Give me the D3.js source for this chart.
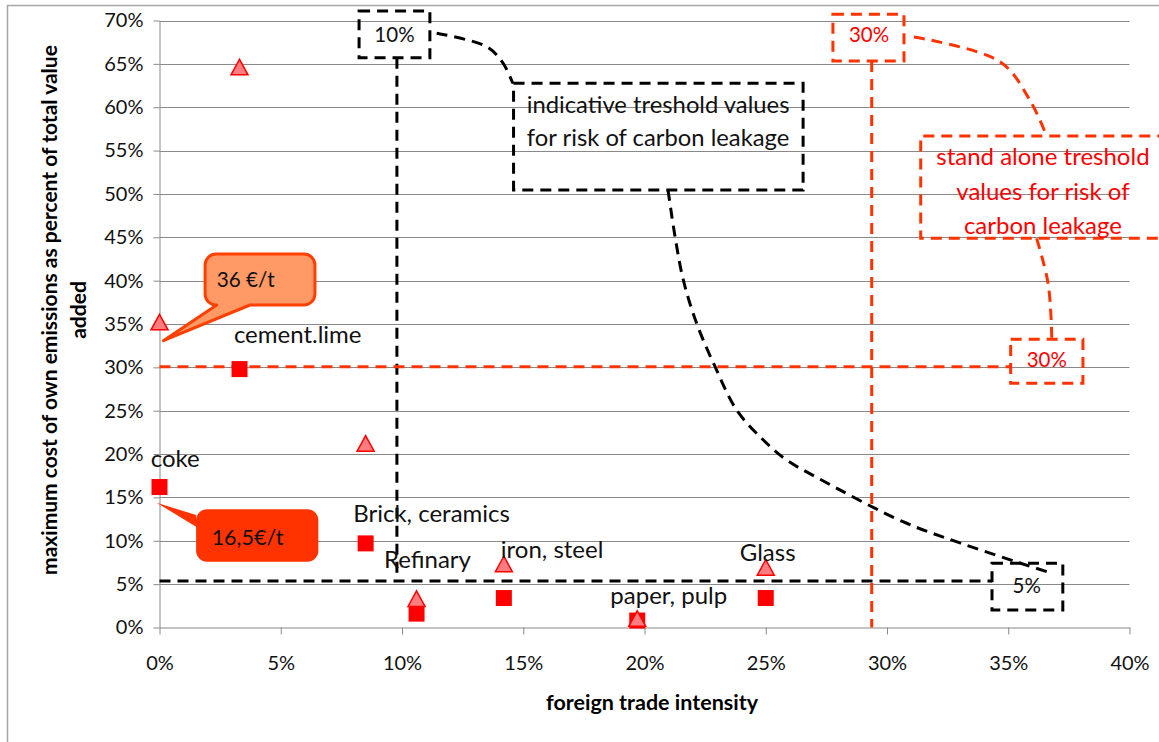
<!DOCTYPE html>
<html><head><meta charset="utf-8">
<script src="https://cdn.jsdelivr.net/npm/d3@7"></script>
<style>body{margin:0;background:#fff}svg{display:block}text{font-family:Lato,"Open Sans",sans-serif}</style>
</head><body>
<svg id="c" width="1159" height="742"></svg>
<script>
// ---------- data ----------
const categories = ["coke", "cement.lime", "Brick, ceramics", "Refinary", "iron, steel", "paper, pulp", "Glass"];
const tradeIntensity = [0.0, 3.3, 8.5, 10.6, 14.2, 19.7, 25.0];          // % (x)
const costLow  = [16.2, 29.8, 9.7, 1.6, 3.4, 0.8, 3.4];                  // % squares (16,5 €/t)
const costHigh = [35.2, 64.6, 21.2, 3.3, 7.3, 1.0, 6.9];                 // % triangles (36 €/t)
const labelX = [0.65, 5.70, 11.22, 11.05, 16.19, 21.0, 25.08];           // label centres (data units)
const labelY = [19.5, 33.73, 13.17, 7.87, 8.94, 3.63, 8.67];
const xTicks = [0, 5, 10, 15, 20, 25, 30, 35, 40];
const yTicks = [0, 5, 10, 15, 20, 25, 30, 35, 40, 45, 50, 55, 60, 65, 70];
const xTitle = "foreign trade intensity";
const yTitleLines = ["maximum cost of own emissions as percent of total value", "added"];

// threshold annotations (data units)
const blackThresholdV = {x: 9.79, y0: 65.7, y1: 6.05};      // 10 % trade intensity
const blackThresholdH = {y: 5.36, x0: 0, x1: 34.33};        // 5 % cost
const redThresholdV = {x: 29.37, y0: 65.33, y1: 0};         // 30 % trade intensity
const redThresholdH = {y: 30.08, x0: 0, x1: 35.10};         // 30 % cost
const blackBoxes = [
  {text: ["10%"], x0: 8.23, x1: 11.15, y0: 71.1, y1: 65.7, tx: 9.69, ty: [68.4], fs: 20.5},
  {text: ["indicative treshold values", "for risk of carbon leakage"], x0: 14.6, x1: 26.54, y0: 62.76, y1: 50.46, tx: 20.56, ty: [60.26, 56.45], fs: 23.8},
  {text: ["5%"], x0: 34.33, x1: 37.25, y0: 7.40, y1: 2.02, tx: 35.76, ty: [4.79], fs: 20.5}
];
const redBoxes = [
  {text: ["30%"], x0: 27.77, x1: 30.70, y0: 70.72, y1: 65.33, tx: 29.26, ty: [68.33], fs: 20.5},
  {text: ["stand alone treshold", "values for risk of", "carbon leakage"], x0: 31.39, x1: 41.6, y0: 56.68, y1: 44.88, tx: 36.43, ty: [54.30, 50.26, 46.30], open: true, fs: 24},
  {text: ["30%"], x0: 35.10, x1: 38.08, y0: 33.24, y1: 28.16, tx: 36.59, ty: [30.85], fs: 20.5}
];
const blackCurves = [
  [[11.43, 68.53], [13.49, 66.98], [14.16, 65.1], [14.57, 62.76]],
  [[20.97, 50.46], [21.26, 45.07], [21.60, 40.08], [22.15, 35.08], [22.91, 30.08], [23.80, 25.08], [24.90, 21.62], [25.86, 19.32], [27.17, 17.21], [30.66, 12.20], [33.01, 9.75], [35.48, 7.44], [36.59, 6.44]]
];
const redCurves = [
  [[31.11, 68.1], [34.66, 65.25], [35.89, 60.83], [36.51, 57.18]],
  [[36.17, 44.88], [36.64, 39.73], [36.79, 33.96], [36.79, 33.24]]
];
const callouts = [
  {text: "36 €/t", x0: 1.88, x1: 6.41, y0: 43.07, y1: 37.19, tip: [0.16, 33.07], base: [2.36, 3.73], side: "bottom", tx: 2.36, ty: 40.16, fill: "#FF9966", stroke: "#FF4000", fs: 20.7},
  {text: "16,5€/t", x0: 1.51, x1: 6.55, y0: 13.63, y1: 7.59, tip: [-0.12, 14.39], base: [12.97, 11.62], side: "left", tx: 2.15, ty: 10.4, fill: "#FF3300", stroke: "none", fs: 21.5}
];

// ---------- chart ----------
const svg = d3.select("#c");
const W = 1159, H = 742;
const x = d3.scaleLinear().domain([0, 40]).range([159.5, 1129.5]);
const y = d3.scaleLinear().domain([0, 70]).range([627.5, 20.5]);
const BLACK = "#000", ORANGE = "#FF3300", RED = "#FF0000";

// outer frame
svg.append("path").attr("d", `M7.5,${H + 5} V5.5 H${W + 5}`).attr("fill", "none").attr("stroke", "#a6a6a6").attr("stroke-width", 1.5);

// gridlines
svg.append("g").selectAll("line").data(yTicks.filter(d => d > 0)).join("line")
  .attr("x1", x(0)).attr("x2", x(40)).attr("y1", d => Math.round(y(d)) + 0.5).attr("y2", d => Math.round(y(d)) + 0.5)
  .attr("stroke", "#898989").attr("stroke-width", 1);

// axes
const yAxis = svg.append("g").attr("transform", `translate(${x(0)},0)`)
  .call(d3.axisLeft(y).tickValues(yTicks).tickFormat(d => d + "%").tickSize(6).tickSizeOuter(0).tickPadding(10));
const xAxis = svg.append("g").attr("transform", `translate(0,${y(0)})`)
  .call(d3.axisBottom(x).tickValues(xTicks).tickFormat(d => d + "%").tickSize(7).tickSizeOuter(0).tickPadding(21));
[yAxis, xAxis].forEach(g => {
  g.select(".domain").attr("stroke", "#898989");
  g.selectAll(".tick line").attr("stroke", "#898989");
  g.selectAll(".tick text").attr("fill", "#111").style("font-size", "20px").style("font-family", "Lato");
});

// axis titles
svg.append("text").attr("x", 652).attr("y", 710).attr("text-anchor", "middle")
  .style("font-size", "21.5px").style("font-weight", "bold").text(xTitle);
const yt = svg.append("text").attr("transform", "translate(0,310) rotate(-90)").attr("text-anchor", "middle")
  .style("font-size", "21px").style("font-weight", "bold");
yTitleLines.forEach((t, i) => yt.append("tspan").attr("x", 0).attr("y", 57 + i * 29).text(t));

// threshold lines
function dashed(g, col) { return g.attr("fill", "none").attr("stroke", col).attr("stroke-width", 3).attr("stroke-dasharray", "11,7"); }
dashed(svg.append("line").attr("x1", x(blackThresholdV.x)).attr("x2", x(blackThresholdV.x)).attr("y1", y(blackThresholdV.y0)).attr("y2", y(blackThresholdV.y1)), BLACK);
dashed(svg.append("line").attr("x1", x(blackThresholdH.x0)).attr("x2", x(blackThresholdH.x1)).attr("y1", y(blackThresholdH.y)).attr("y2", y(blackThresholdH.y)), BLACK);
dashed(svg.append("line").attr("x1", x(redThresholdV.x)).attr("x2", x(redThresholdV.x)).attr("y1", y(redThresholdV.y0)).attr("y2", y(redThresholdV.y1)), ORANGE);
dashed(svg.append("line").attr("x1", x(redThresholdH.x0)).attr("x2", x(redThresholdH.x1)).attr("y1", y(redThresholdH.y)).attr("y2", y(redThresholdH.y)), ORANGE);

// curves
const curve = d3.line().x(d => x(d[0])).y(d => y(d[1])).curve(d3.curveCatmullRom);
blackCurves.forEach(c => dashed(svg.append("path").attr("d", curve(c)), BLACK));
redCurves.forEach(c => dashed(svg.append("path").attr("d", curve(c)), ORANGE));

// boxes
function boxes(list, col, tcol) {
  list.forEach(b => {
    const X0 = x(b.x0), X1 = x(b.x1), Y0 = y(b.y0), Y1 = y(b.y1);
    const d = b.open ? `M${X1},${Y0} H${X0} V${Y1} H${X1}` : `M${X0},${Y0} H${X1} V${Y1} H${X0} Z`;
    dashed(svg.append("path").attr("d", d), col);
    b.text.forEach((t, i) => svg.append("text").attr("x", x(b.tx)).attr("y", y(b.ty[i])).attr("dy", "0.35em")
      .attr("text-anchor", "middle").attr("fill", tcol).style("font-size", b.fs + "px").text(t));
  });
}
boxes(blackBoxes, BLACK, "#111");
boxes(redBoxes, ORANGE, RED);

// callouts
callouts.forEach(c => {
  const X0 = x(c.x0), X1 = x(c.x1), Y0 = y(c.y0), Y1 = y(c.y1), r = 11;
  const T = [x(c.tip[0]), y(c.tip[1])];
  let d;
  if (c.side === "bottom") {
    const b1 = x(c.base[0]), b2 = x(c.base[1]);
    d = `M${X0 + r},${Y0} H${X1 - r} A${r},${r} 0 0 1 ${X1},${Y0 + r} V${Y1 - r} A${r},${r} 0 0 1 ${X1 - r},${Y1} H${b2} L${T[0]},${T[1]} L${b1},${Y1} H${X0 + r} A${r},${r} 0 0 1 ${X0},${Y1 - r} V${Y0 + r} A${r},${r} 0 0 1 ${X0 + r},${Y0} Z`;
  } else {
    const b1 = y(c.base[0]), b2 = y(c.base[1]);
    d = `M${X0 + r},${Y0} H${X1 - r} A${r},${r} 0 0 1 ${X1},${Y0 + r} V${Y1 - r} A${r},${r} 0 0 1 ${X1 - r},${Y1} H${X0 + r} A${r},${r} 0 0 1 ${X0},${Y1 - r} V${b2} L${T[0]},${T[1]} L${X0},${b1} V${Y0 + r} A${r},${r} 0 0 1 ${X0 + r},${Y0} Z`;
  }
  svg.append("path").attr("d", d).attr("fill", c.fill).attr("stroke", c.stroke).attr("stroke-width", 3).attr("stroke-linejoin", "round");
  svg.append("text").attr("x", x(c.tx)).attr("y", y(c.ty)).attr("dy", "0.35em").attr("fill", "#111").style("font-size", c.fs + "px").text(c.text);
});

// markers
const pts = d3.range(categories.length);
const s = 16;
svg.append("g").selectAll("rect").data(pts).join("rect")
  .attr("x", i => x(tradeIntensity[i]) - s / 2).attr("y", i => y(costLow[i]) - s / 2)
  .attr("width", s).attr("height", s).attr("fill", RED);
svg.append("g").selectAll("path").data(pts).join("path")
  .attr("d", i => { const cx = x(tradeIntensity[i]), cy = y(costHigh[i]); return `M${cx},${cy - 8} L${cx + 8.5},${cy + 7.5} L${cx - 8.5},${cy + 7.5} Z`; })
  .attr("fill", "#FF7C80").attr("stroke", RED).attr("stroke-width", 1.5);

// labels
svg.append("g").selectAll("text").data(pts).join("text")
  .attr("x", i => x(labelX[i])).attr("y", i => y(labelY[i])).attr("dy", "0.35em").attr("text-anchor", "middle")
  .attr("fill", "#111").style("font-size", "24px").text(i => categories[i]);
</script>
</body></html>
